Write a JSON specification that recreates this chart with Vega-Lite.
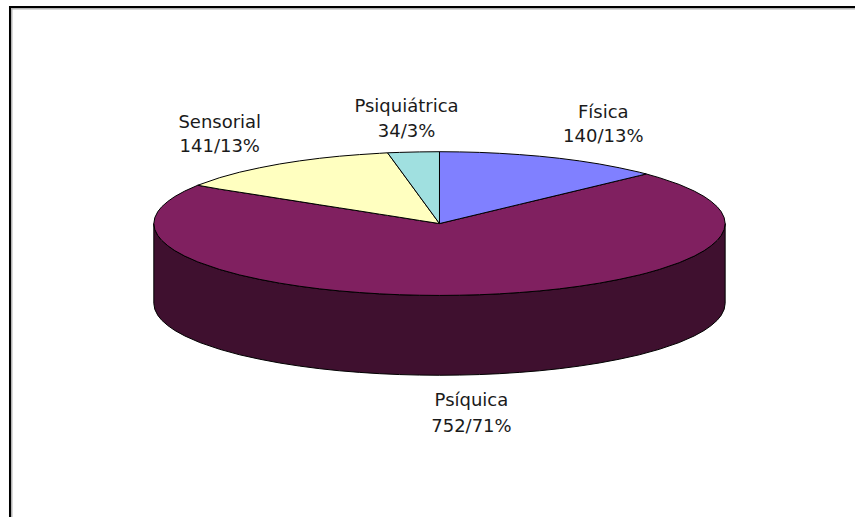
{"$schema":"https://vega.github.io/schema/vega-lite/v6.json","width":856,"height":518,"autosize":{"type":"fit","contains":"padding"},"padding":0,"background":"white","config":{"view":{"stroke":null}},"resolve":{"scale":{"color":"independent"}},
"layer":[
{"data":{"values":[{"x":-431,"x2":416,"y":215.5,"c":"g"},{"x":-431,"x2":416,"y":217,"c":"k"}]},"mark":{"type":"rule","strokeWidth":2},"encoding":{"x":{"field":"x","type":"quantitative","scale":{"domain":[-440,416],"nice":false,"zero":false},"axis":null},"x2":{"field":"x2"},"y":{"field":"y","type":"quantitative","scale":{"domain":[-294,224],"nice":false,"zero":false},"axis":null},"color":{"field":"c","type":"nominal","legend":null,"scale":{"domain":["g","k"],"range":["#b4b4b4","#000000"]}}}},
{"data":{"values":[{"x":-428.5,"y":216,"y2":-294,"c":"g"},{"x":-430,"y":218,"y2":-294,"c":"k"}]},"mark":{"type":"rule","strokeWidth":2},"encoding":{"x":{"field":"x","type":"quantitative","scale":{"domain":[-440,416],"nice":false,"zero":false},"axis":null},"y":{"field":"y","type":"quantitative","scale":{"domain":[-294,224],"nice":false,"zero":false},"axis":null},"y2":{"field":"y2"},"color":{"field":"c","type":"nominal","legend":null,"scale":{"domain":["g","k"],"range":["#b4b4b4","#000000"]}}}},
{"data":{"values":[
{"slice":"Lado","x":-286,"top":0,"bottom":-80},{"slice":"Lado","x":-285,"top":-6,"bottom":-86},{"slice":"Lado","x":-282,"top":-12,"bottom":-92},{"slice":"Lado","x":-278,"top":-16.9,"bottom":-96.9},{"slice":"Lado","x":-272,"top":-22.2,"bottom":-102.2},{"slice":"Lado","x":-265,"top":-27.1,"bottom":-107.1},{"slice":"Lado","x":-255,"top":-32.6,"bottom":-112.6},{"slice":"Lado","x":-240,"top":-39.2,"bottom":-119.2},{"slice":"Lado","x":-220,"top":-46,"bottom":-126},{"slice":"Lado","x":-200,"top":-51.5,"bottom":-131.5},{"slice":"Lado","x":-180,"top":-55.9,"bottom":-135.9},{"slice":"Lado","x":-160,"top":-59.7,"bottom":-139.7},{"slice":"Lado","x":-140,"top":-62.8,"bottom":-142.8},{"slice":"Lado","x":-120,"top":-65.4,"bottom":-145.4},{"slice":"Lado","x":-100,"top":-67.5,"bottom":-147.5},{"slice":"Lado","x":-80,"top":-69.1,"bottom":-149.1},{"slice":"Lado","x":-60,"top":-70.4,"bottom":-150.4},{"slice":"Lado","x":-40,"top":-71.3,"bottom":-151.3},{"slice":"Lado","x":-20,"top":-71.8,"bottom":-151.8},{"slice":"Lado","x":0,"top":-72,"bottom":-152},{"slice":"Lado","x":20,"top":-71.8,"bottom":-151.8},{"slice":"Lado","x":40,"top":-71.3,"bottom":-151.3},{"slice":"Lado","x":60,"top":-70.4,"bottom":-150.4},{"slice":"Lado","x":80,"top":-69.1,"bottom":-149.1},{"slice":"Lado","x":100,"top":-67.5,"bottom":-147.5},{"slice":"Lado","x":120,"top":-65.4,"bottom":-145.4},{"slice":"Lado","x":140,"top":-62.8,"bottom":-142.8},{"slice":"Lado","x":160,"top":-59.7,"bottom":-139.7},{"slice":"Lado","x":180,"top":-55.9,"bottom":-135.9},{"slice":"Lado","x":200,"top":-51.5,"bottom":-131.5},{"slice":"Lado","x":220,"top":-46,"bottom":-126},{"slice":"Lado","x":240,"top":-39.2,"bottom":-119.2},{"slice":"Lado","x":255,"top":-32.6,"bottom":-112.6},{"slice":"Lado","x":265,"top":-27.1,"bottom":-107.1},{"slice":"Lado","x":272,"top":-22.2,"bottom":-102.2},{"slice":"Lado","x":278,"top":-16.9,"bottom":-96.9},{"slice":"Lado","x":282,"top":-12,"bottom":-92},{"slice":"Lado","x":285,"top":-6,"bottom":-86},{"slice":"Lado","x":286,"top":0,"bottom":-80},
{"slice":"Psíquica","x":-286,"top":0,"bottom":0},{"slice":"Psíquica","x":-285,"top":6,"bottom":-6},{"slice":"Psíquica","x":-282,"top":12,"bottom":-12},{"slice":"Psíquica","x":-278,"top":16.9,"bottom":-16.9},{"slice":"Psíquica","x":-272,"top":22.2,"bottom":-22.2},{"slice":"Psíquica","x":-265,"top":27.1,"bottom":-27.1},{"slice":"Psíquica","x":-255,"top":32.6,"bottom":-32.6},{"slice":"Psíquica","x":-242,"top":38.4,"bottom":-38.4},{"slice":"Psíquica","x":-220,"top":34.5,"bottom":-46},{"slice":"Psíquica","x":-200,"top":31.4,"bottom":-51.5},{"slice":"Psíquica","x":-180,"top":28.3,"bottom":-55.9},{"slice":"Psíquica","x":-160,"top":25.1,"bottom":-59.7},{"slice":"Psíquica","x":-140,"top":22,"bottom":-62.8},{"slice":"Psíquica","x":-120,"top":18.8,"bottom":-65.4},{"slice":"Psíquica","x":-100,"top":15.7,"bottom":-67.5},{"slice":"Psíquica","x":-80,"top":12.6,"bottom":-69.1},{"slice":"Psíquica","x":-60,"top":9.4,"bottom":-70.4},{"slice":"Psíquica","x":-40,"top":6.3,"bottom":-71.3},{"slice":"Psíquica","x":-20,"top":3.1,"bottom":-71.8},{"slice":"Psíquica","x":0,"top":0,"bottom":-72},{"slice":"Psíquica","x":20,"top":4.8,"bottom":-71.8},{"slice":"Psíquica","x":40,"top":9.6,"bottom":-71.3},{"slice":"Psíquica","x":60,"top":14.4,"bottom":-70.4},{"slice":"Psíquica","x":80,"top":19.2,"bottom":-69.1},{"slice":"Psíquica","x":100,"top":24,"bottom":-67.5},{"slice":"Psíquica","x":120,"top":28.8,"bottom":-65.4},{"slice":"Psíquica","x":140,"top":33.6,"bottom":-62.8},{"slice":"Psíquica","x":160,"top":38.4,"bottom":-59.7},{"slice":"Psíquica","x":180,"top":43.2,"bottom":-55.9},{"slice":"Psíquica","x":200,"top":48,"bottom":-51.5},{"slice":"Psíquica","x":207,"top":49.7,"bottom":-49.7},{"slice":"Psíquica","x":220,"top":46,"bottom":-46},{"slice":"Psíquica","x":240,"top":39.2,"bottom":-39.2},{"slice":"Psíquica","x":255,"top":32.6,"bottom":-32.6},{"slice":"Psíquica","x":265,"top":27.1,"bottom":-27.1},{"slice":"Psíquica","x":272,"top":22.2,"bottom":-22.2},{"slice":"Psíquica","x":278,"top":16.9,"bottom":-16.9},{"slice":"Psíquica","x":282,"top":12,"bottom":-12},{"slice":"Psíquica","x":285,"top":6,"bottom":-6},{"slice":"Psíquica","x":286,"top":0,"bottom":0},
{"slice":"Sensorial","x":-242,"top":38.4,"bottom":38.4},{"slice":"Sensorial","x":-220,"top":46,"bottom":34.5},{"slice":"Sensorial","x":-200,"top":51.5,"bottom":31.4},{"slice":"Sensorial","x":-180,"top":55.9,"bottom":28.3},{"slice":"Sensorial","x":-160,"top":59.7,"bottom":25.1},{"slice":"Sensorial","x":-140,"top":62.8,"bottom":22},{"slice":"Sensorial","x":-120,"top":65.4,"bottom":18.8},{"slice":"Sensorial","x":-100,"top":67.5,"bottom":15.7},{"slice":"Sensorial","x":-80,"top":69.1,"bottom":12.6},{"slice":"Sensorial","x":-60,"top":70.4,"bottom":9.4},{"slice":"Sensorial","x":-52,"top":70.9,"bottom":8.2},{"slice":"Sensorial","x":-40,"top":54.6,"bottom":6.3},{"slice":"Sensorial","x":-20,"top":27.3,"bottom":3.1},{"slice":"Sensorial","x":0,"top":0,"bottom":0},
{"slice":"Psiquiátrica","x":-52,"top":70.9,"bottom":70.9},{"slice":"Psiquiátrica","x":-40,"top":71.3,"bottom":54.6},{"slice":"Psiquiátrica","x":-20,"top":71.8,"bottom":27.3},{"slice":"Psiquiátrica","x":0,"top":72,"bottom":0},
{"slice":"Física","x":0,"top":72,"bottom":0},{"slice":"Física","x":20,"top":71.8,"bottom":4.8},{"slice":"Física","x":40,"top":71.3,"bottom":9.6},{"slice":"Física","x":60,"top":70.4,"bottom":14.4},{"slice":"Física","x":80,"top":69.1,"bottom":19.2},{"slice":"Física","x":100,"top":67.5,"bottom":24},{"slice":"Física","x":120,"top":65.4,"bottom":28.8},{"slice":"Física","x":140,"top":62.8,"bottom":33.6},{"slice":"Física","x":160,"top":59.7,"bottom":38.4},{"slice":"Física","x":180,"top":55.9,"bottom":43.2},{"slice":"Física","x":200,"top":51.5,"bottom":48},{"slice":"Física","x":207,"top":49.7,"bottom":49.7}
]},"mark":{"type":"area","stroke":"#000000","strokeWidth":1,"opacity":1},"encoding":{"x":{"field":"x","type":"quantitative","scale":{"domain":[-440,416],"nice":false,"zero":false},"axis":null},"y":{"field":"top","type":"quantitative","stack":null,"scale":{"domain":[-294,224],"nice":false,"zero":false},"axis":null},"y2":{"field":"bottom"},"color":{"field":"slice","type":"nominal","legend":null,"scale":{"domain":["Lado","Psíquica","Sensorial","Psiquiátrica","Física"],"range":["#3f102f","#802060","#ffffc0","#a0e0e0","#8080ff"]}}}},
{"data":{"values":[{"x":-220,"y":96,"t":"Sensorial"},{"x":-220,"y":72,"t":"141/13%"},{"x":-33,"y":112,"t":"Psiquiátrica"},{"x":-33,"y":87,"t":"34/3%"},{"x":164,"y":106,"t":"Física"},{"x":164,"y":82,"t":"140/13%"},{"x":32,"y":-183,"t":"Psíquica"},{"x":32,"y":-209,"t":"752/71%"}]},"mark":{"type":"text","font":"DejaVu Sans","fontSize":18,"align":"center","baseline":"alphabetic","color":"#1a1a1a"},"encoding":{"x":{"field":"x","type":"quantitative","scale":{"domain":[-440,416],"nice":false,"zero":false},"axis":null},"y":{"field":"y","type":"quantitative","scale":{"domain":[-294,224],"nice":false,"zero":false},"axis":null},"text":{"field":"t"}}}
]}
